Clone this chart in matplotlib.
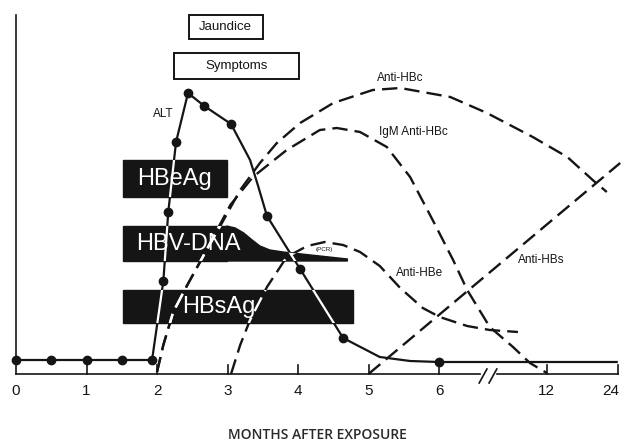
import matplotlib.pyplot as plt
from matplotlib.patches import Rectangle, Polygon

# x = position on the (broken) month axis, y = relative level above the axis
tick_pos = [0, 1, 2, 3, 4, 5, 6, 7.53, 8.54]
tick_labels = ['0', '1', '2', '3', '4', '5', '6', '12', '24']

# ALT: measured points (dots) and the line through them
alt_dot_x = [0, 0.5, 1, 1.5, 1.93, 2.09, 2.16, 2.27, 2.44, 2.67, 3.05, 3.56, 4.03, 4.64, 6.0]
alt_dot_y = [14, 14, 14, 14, 14, 93, 162, 232, 281, 268, 250, 158, 105, 36, 12]
alt_x = [0, 0.5, 1, 1.5, 1.93, 2.09, 2.16, 2.27, 2.44, 2.67, 3.05, 3.32, 3.43, 3.56,
         4.03, 4.64, 5.16, 5.59, 6.0, 8.52]
alt_y = [14, 14, 14, 14, 14, 93, 162, 232, 281, 268, 250, 214, 189, 158,
         105, 36, 17, 13, 12, 12]

anti_hbc_x = [2.0, 2.09, 2.23, 2.43, 2.61, 2.89, 3.18, 3.46, 3.70, 4.03, 4.50, 5.06,
              5.45, 6.16, 6.68, 7.33, 7.82, 8.18, 8.38]
anti_hbc_y = [2, 29, 62, 89, 112, 147, 184, 211, 231, 251, 271, 284,
              286, 277, 261, 237, 217, 194, 182]

igm_x = [2.0, 2.09, 2.23, 2.43, 2.61, 3.04, 3.36, 3.84, 4.31, 4.55, 4.88, 5.26,
         5.59, 5.91, 6.20, 6.40, 6.72, 7.05, 7.29, 7.53]
igm_y = [2, 29, 62, 89, 112, 169, 197, 224, 244, 246, 242, 227,
         197, 154, 114, 84, 47, 27, 11, 1]

anti_hbe_x = [3.05, 3.18, 3.32, 3.56, 3.84, 4.13, 4.38, 4.64, 4.88, 5.16, 5.45,
              5.77, 6.01, 6.40, 6.72, 7.12]
anti_hbe_y = [0, 29, 54, 87, 117, 128, 132, 129, 122, 108, 86,
              66, 57, 48, 44, 42]

anti_hbs_x = [5.0, 8.57]
anti_hbs_y = [0, 211]

# marker bars: start, end, bottom, top
hbeag = [1.52, 2.99, 177, 214]
hbv_dna = [1.52, 2.99, 113, 148]
hbsag = [1.52, 4.78, 51, 84]
# HBV-DNA tail tapering off (PCR detectable)
dna_tail_x = [2.99, 3.11, 3.23, 3.35, 3.46, 3.60, 3.79, 4.70]
dna_tail_y = [148, 146, 141, 134, 128, 124, 122, 115]

jaundice = [2.45, 3.50, 335, 359]
symptoms = [2.24, 4.01, 295, 321]

fig = plt.figure(figsize=(6.25, 4.43), dpi=100)
ax = fig.add_axes([0, 0, 1, 1])
ax.set_xlim(-16 / 70.5, 609 / 70.5)
ax.set_ylim(-69, 374)
ax.set_axis_off()

ink = '#151515'
sans = ['Liberation Sans', 'DejaVu Sans']

# axes
ax.plot([0, 0], [0, 359], color=ink, lw=1.2)
ax.plot([0, 6.58], [0, 0], color=ink, lw=1.2)
ax.plot([6.82, 8.54], [0, 0], color=ink, lw=1.2)
for s in (6.57, 6.71):
    ax.plot([s, s + 0.11], [-9, 5], color=ink, lw=1.2)
for p, lab in zip(tick_pos, tick_labels):
    if p > 0:
        ax.plot([p, p], [0, 9], color=ink, lw=1.2)
    ax.text(min(p, 8.44), -17, lab, ha='center', va='center', fontsize=11,
            family=sans, color=ink)
ax.text(4.27, -61, 'MONTHS AFTER EXPOSURE', ha='center', va='center', fontsize=10,
        family=['Open Sans', 'DejaVu Sans'], fontweight='semibold', color='#2a2a2a')

# marker bars
bars = []
for (x0, x1, y0, y1), lab, cx in [(hbeag, 'HBeAg', 2.25), (hbv_dna, 'HBV-DNA', 2.44),
                                  (hbsag, 'HBsAg', 2.87)]:
    r = Rectangle((x0, y0), x1 - x0, y1 - y0, color=ink, zorder=2)
    ax.add_patch(r)
    bars.append(r)
    ax.text(cx, (y0 + y1) / 2, lab, ha='center', va='center', color='white',
            fontsize=17, family=sans, zorder=8)
tail = Polygon(list(zip(dna_tail_x, dna_tail_y)) + [(4.70, 113), (2.99, 113)],
               closed=True, color=ink, zorder=2)
ax.add_patch(tail)
bars.append(tail)
ax.text(4.38, 124, '(PCR)', ha='center', va='center', fontsize=4.5, family=sans,
        color=ink, zorder=4)

# clinical boxes
for (x0, x1, y0, y1), lab in [(jaundice, 'Jaundice'), (symptoms, 'Symptoms')]:
    ax.add_patch(Rectangle((x0, y0), x1 - x0, y1 - y0, fill=False, ec=ink, lw=1.4))
    ax.text((x0 + x1) / 2, (y0 + y1) / 2, lab, ha='center', va='center',
            fontsize=9.5, family=sans, color=ink)

# serology curves, shown white where they cross the black bars
dash = dict(lw=1.7, dashes=(6.5, 3.0))
curves = [(anti_hbc_x, anti_hbc_y, dash), (igm_x, igm_y, dash),
          (anti_hbe_x, anti_hbe_y, dash), (anti_hbs_x, anti_hbs_y, dash),
          (alt_x, alt_y, dict(lw=1.6))]
for cx_, cy_, style in curves:
    ax.plot(cx_, cy_, color=ink, zorder=5, **style)
    for b in bars:
        ln, = ax.plot(cx_, cy_, color='white', zorder=6, **style)
        ln.set_clip_path(b)
dots, = ax.plot(alt_dot_x, alt_dot_y, 'o', color=ink, ms=6, zorder=7)

# curve labels
for x, y, lab in [(2.09, 260, 'ALT'), (5.45, 296, 'Anti-HBc'), (5.63, 242, 'IgM Anti-HBc'),
                  (5.72, 101, 'Anti-HBe'), (7.45, 114, 'Anti-HBs')]:
    ax.text(x, y, lab, ha='center', va='center', fontsize=8.5, family=sans, color=ink)

fig.savefig('out.png', dpi=100)
